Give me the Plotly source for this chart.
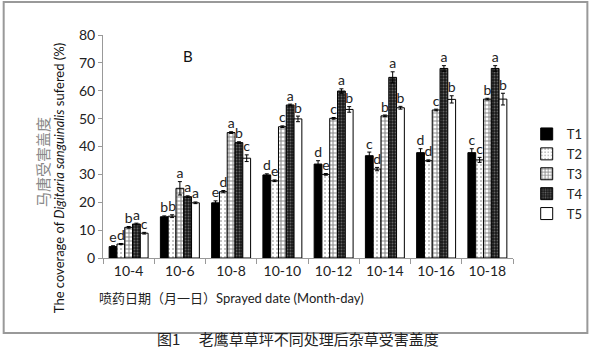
import plotly.graph_objects as go

dates = ["10-4", "10-6", "10-8", "10-10", "10-12", "10-14", "10-16", "10-18"]
series_names = ["T1", "T2", "T3", "T4", "T5"]

t1 = [4.1, 14.8, 19.8, 29.8, 33.7, 36.7, 37.8, 37.8]
t2 = [5.0, 15.0, 23.8, 27.7, 30.0, 31.9, 34.9, 35.2]
t3 = [11.0, 25.0, 45.0, 47.1, 50.1, 51.0, 53.1, 57.0]
t4 = [12.2, 22.0, 41.4, 54.9, 59.9, 64.8, 68.0, 68.0]
t5 = [8.9, 19.8, 35.8, 49.9, 53.3, 53.9, 56.9, 57.0]

e1 = [0.3, 0.3, 0.7, 0.4, 1.2, 1.3, 1.4, 1.4]
e2 = [0.2, 0.5, 0.4, 0.3, 0.3, 0.6, 0.3, 0.9]
e3 = [0.3, 2.4, 0.3, 0.3, 0.3, 0.3, 0.3, 0.3]
e4 = [0.3, 0.3, 0.3, 0.3, 0.8, 2.0, 1.0, 1.0]
e5 = [0.3, 0.3, 1.2, 1.0, 1.0, 0.5, 1.3, 2.1]

l1 = ["e", "b", "e", "d", "d", "c", "d", "c"]
l2 = ["d", "b", "d", "e", "e", "d", "d", "c"]
l3 = ["b", "a", "a", "c", "c", "b", "c", "b"]
l4 = ["a", "a", "b", "a", "a", "a", "a", "a"]
l5 = ["c", "a", "c", "b", "b", "b", "b", "b"]

values = [t1, t2, t3, t4, t5]
errors = [e1, e2, e3, e4, e5]
letters = [l1, l2, l3, l4, l5]

patterns = [
    dict(shape="", bgcolor="black", fgcolor="black"),
    dict(shape=".", bgcolor="white", fgcolor="#666", size=4, solidity=0.2),
    dict(shape="+", bgcolor="white", fgcolor="#111", size=4, solidity=0.45),
    dict(shape=".", bgcolor="#1a1a1a", fgcolor="#aaa", size=3, solidity=0.3),
    dict(shape="", bgcolor="white", fgcolor="white"),
]
colors = ["black", "white", "white", "#1a1a1a", "white"]

FONT = "Lato, Noto Sans CJK SC, sans-serif"

fig = go.Figure()
for i, name in enumerate(series_names):
    fig.add_trace(go.Bar(
        x=dates, y=values[i], name=name,
        offsetgroup=str(i), alignmentgroup="g",
        marker=dict(color=colors[i], pattern=patterns[i],
                    line=dict(color="black", width=1)),
        error_y=dict(type="data", array=errors[i], visible=True,
                     color="black", thickness=1, width=2),
    ))
for i, name in enumerate(series_names):
    fig.add_trace(go.Scatter(
        x=dates, y=[v + e for v, e in zip(values[i], errors[i])],
        text=letters[i], mode="text", textposition="top center",
        textfont=dict(size=14, color="#222", family=FONT),
        offsetgroup=str(i), alignmentgroup="g",
        showlegend=False, hoverinfo="skip", cliponaxis=False,
    ))

L, R = 103, 522
T, B = 35, 258
W, H = 600, 362

def px(x):
    return (x - L) / (R - L)

def py(y):
    return (B - y) / (B - T)

fig.update_layout(
    width=W, height=H,
    margin=dict(l=L, r=W - R, t=T, b=H - B),
    paper_bgcolor="white", plot_bgcolor="white",
    barmode="group", bargap=0.24, bargroupgap=0,
    scattermode="group", scattergap=0.24,
    font=dict(family=FONT, color="#222", size=14),
    showlegend=True,
    legend=dict(x=px(536), y=py(119), xanchor="left", yanchor="top",
                font=dict(size=13, family=FONT), tracegroupgap=0,
                itemwidth=30, bgcolor="rgba(0,0,0,0)"),
    xaxis=dict(type="category", tickson="boundaries", ticks="outside",
               ticklen=5, tickcolor="#999", showline=True, linecolor="#999",
               showgrid=False, tickfont=dict(size=14, color="#222")),
    yaxis=dict(range=[0, 80], dtick=10, ticks="outside", ticklen=4,
               tickcolor="#999", showline=True, linecolor="#999",
               showgrid=False, zeroline=False,
               tickfont=dict(size=14, color="#222")),
)

fig.add_shape(type="rect", xref="paper", yref="paper",
              x0=px(1.5), x1=px(598), y0=py(333), y1=py(2),
              line=dict(color="#999", width=2))

fig.add_annotation(text="B", xref="paper", yref="paper", x=px(183), y=py(45),
                   showarrow=False, font=dict(size=15, color="#111"))
fig.add_annotation(text="The coverage of <i>Digitaria sanguinalis</i> sufered (%)",
                   xref="paper", yref="paper", x=px(48), y=py(178),
                   textangle=-90, showarrow=False,
                   font=dict(size=13, color="#111"))
fig.add_annotation(text="马唐受害盖度", xref="paper", yref="paper",
                   x=px(28), y=py(162), textangle=-90, showarrow=False,
                   font=dict(size=15, color="#888888",
                             family="Noto Sans CJK SC"))
fig.add_annotation(text="喷药日期（月一日）Sprayed date (Month-day)",
                   xref="paper", yref="paper", x=px(97), y=py(308),
                   xanchor="left", showarrow=False,
                   font=dict(size=13, color="#222"))
fig.add_annotation(text="图1　 老鹰草草坪不同处理后杂草受害盖度",
                   xref="paper", yref="paper", x=px(302), y=py(351),
                   showarrow=False,
                   font=dict(size=15, color="#222", family="Noto Sans CJK SC"))

fig.write_html("out.html", config={"displayModeBar": False},
               post_script="document.body.style.margin='0';document.body.style.overflow='hidden';")
